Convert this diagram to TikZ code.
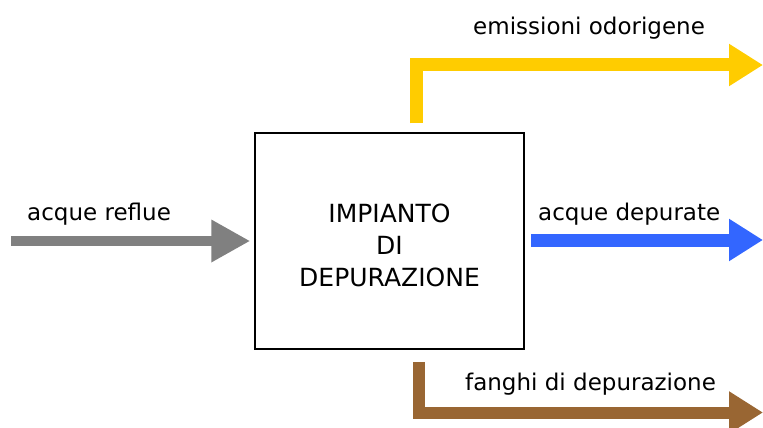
\documentclass[tikz,border=0pt]{standalone}
\usepackage{fontspec}
\setmainfont{DejaVu Sans}
\usetikzlibrary{arrows.meta}
\definecolor{cgray}{HTML}{808080}
\definecolor{cyellow}{HTML}{FFCC00}
\definecolor{cblue}{HTML}{3366FF}
\definecolor{cbrown}{HTML}{996633}
\begin{document}
\begin{tikzpicture}[x=1pt,y=-1pt,
  flow/.style={line width=13pt, line join=miter, line cap=butt, -{Triangle[length=34pt,width=40pt]}},
  lbl/.style={anchor=base west, inner sep=0pt, font=\fontsize{23}{28}\selectfont},
  plant/.style={draw, line width=1.5pt, minimum width=269pt, minimum height=216pt, inner sep=0pt},
  planttext/.style={align=center, inner sep=0pt, font=\fontsize{25}{32}\selectfont}]
\useasboundingbox (0,0) rectangle (763,428);
\node[plant] (box) at (389.5,241) {};
\node[planttext] (boxtext) at ([yshift=-4pt]box.center) {IMPIANTO\\DI\\DEPURAZIONE};
\coordinate (inS) at (11,241);
\coordinate (yS) at ([xshift=27pt,yshift=9pt]box.north);
\coordinate (yE) at (763,65);
\coordinate (bS) at ([xshift=6pt,yshift=1pt]box.east);
\coordinate (bE) at (763,240);
\coordinate (brS) at ([xshift=29pt,yshift=-12pt]box.south);
\coordinate (brE) at (763,412.5);
\draw[flow, cgray, line width=10pt, -{Triangle[length=39pt,width=40pt]}, shorten >=4pt] (inS) -- (inS -| box.west);
\draw[flow, cyellow] (yS) |- (yE);
\draw[flow, cblue] (bS) -- (bE);
\draw[flow, cbrown, line width=12pt] (brS) |- (brE);
\node[lbl] (l1) at (27,220) {acque reflue};
\node[lbl] (l2) at (473,35) {emissioni odorigene};
\node[lbl] (l3) at (538,220) {acque depurate};
\node[lbl] (l4) at (465,390) {fanghi di depurazione};
\end{tikzpicture}
\end{document}
